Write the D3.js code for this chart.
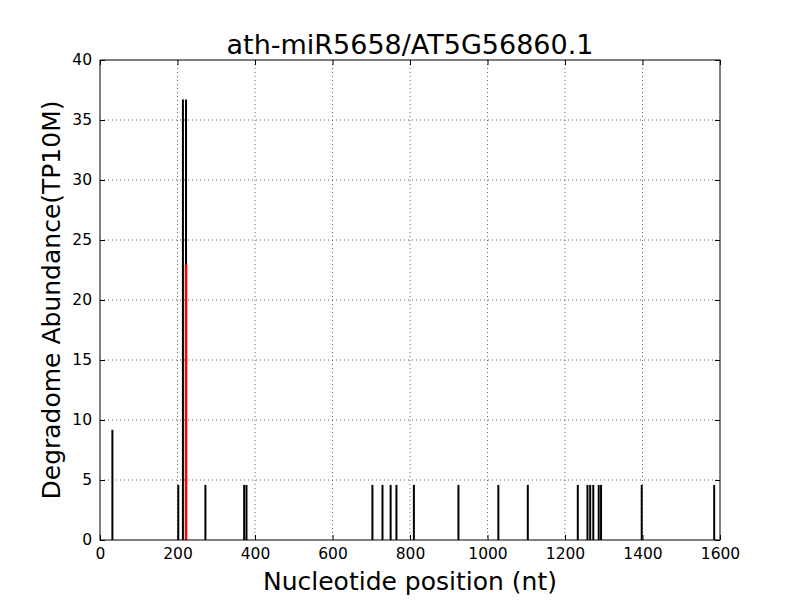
<!DOCTYPE html>
<html>
<head>
<meta charset="utf-8">
<script src="https://cdn.jsdelivr.net/npm/d3@7"></script>
<style>
  body { margin: 0; background: #fff; }
  text { font-family: "DejaVu Sans", sans-serif; }
</style>
</head>
<body>
<div id="chart"></div>
<script>
// degradome reads along the transcript
const positions = [32, 202, 214, 222, 272, 372, 378, 703, 729, 750, 765, 810, 925, 1028, 1104, 1233, 1258, 1265, 1273, 1287, 1293, 1398, 1585];
const abundance = [9.18, 4.59, 36.7, 36.7, 4.59, 4.59, 4.59, 4.59, 4.59, 4.59, 4.59, 4.59, 4.59, 4.59, 4.59, 4.59, 4.59, 4.59, 4.59, 4.59, 4.59, 4.59, 4.59];
// target site
const sitePos = [222];
const siteVal = [22.95];
const xTicks = [0, 200, 400, 600, 800, 1000, 1200, 1400, 1600];
const yTicks = [0, 5, 10, 15, 20, 25, 30, 35, 40];

const width = 800, height = 600;
const margin = {top: 60, right: 80, bottom: 60, left: 100};
const w = width - margin.left - margin.right, h = height - margin.top - margin.bottom;

const svg = d3.select("#chart").append("svg")
  .attr("width", width).attr("height", height);
const g = svg.append("g").attr("transform", `translate(${margin.left},${margin.top})`);

const x = d3.scaleLinear().domain([0, 1600]).range([0, w]);
const y = d3.scaleLinear().domain([0, 40]).range([h, 0]);

// grid
g.selectAll(".gx").data(xTicks.slice(1, -1)).enter().append("line")
  .attr("x1", d => x(d)).attr("x2", d => x(d)).attr("y1", 0).attr("y2", h)
  .attr("stroke", "#000").attr("stroke-width", 0.6).attr("stroke-dasharray", "1,3");
g.selectAll(".gy").data(yTicks.slice(1, -1)).enter().append("line")
  .attr("y1", d => y(d)).attr("y2", d => y(d)).attr("x1", 0).attr("x2", w)
  .attr("stroke", "#000").attr("stroke-width", 0.6).attr("stroke-dasharray", "1,3");

// bars
const data = positions.map((p, i) => ({p: p, v: abundance[i]}));
g.selectAll(".bar").data(data).enter().append("line")
  .attr("x1", d => x(d.p)).attr("x2", d => x(d.p))
  .attr("y1", h).attr("y2", d => y(d.v))
  .attr("stroke", "#000").attr("stroke-width", 2);
g.selectAll(".site").data(sitePos).enter().append("line")
  .attr("x1", d => x(d)).attr("x2", d => x(d))
  .attr("y1", h).attr("y2", (d, i) => y(siteVal[i]))
  .attr("stroke", "red").attr("stroke-width", 2.5);

// axes (ticks inside, mirrored)
g.append("g").attr("transform", `translate(0,${h})`)
  .call(d3.axisBottom(x).tickValues(xTicks).tickFormat(d3.format("d")).tickSizeInner(-5).tickSizeOuter(0).tickPadding(8));
g.append("g")
  .call(d3.axisLeft(y).tickValues(yTicks).tickFormat(d3.format("d")).tickSizeInner(-5).tickSizeOuter(0).tickPadding(8));
g.append("g").call(d3.axisTop(x).tickValues(xTicks).tickSizeInner(-5).tickSizeOuter(0).tickFormat(""));
g.append("g").attr("transform", `translate(${w},0)`)
  .call(d3.axisRight(y).tickValues(yTicks).tickSizeInner(-5).tickSizeOuter(0).tickFormat(""));
svg.selectAll(".domain").remove();
svg.selectAll(".tick line").attr("stroke", "#000");
svg.selectAll(".tick text").attr("font-size", 15.5).attr("fill", "#000")
  .style("font-family", "DejaVu Sans, sans-serif");

g.append("rect").attr("width", w).attr("height", h)
  .attr("fill", "none").attr("stroke", "#000").attr("stroke-width", 1);

svg.append("text").attr("x", margin.left + w / 2).attr("y", 54)
  .attr("text-anchor", "middle").attr("font-size", 27).text("ath-miR5658/AT5G56860.1");
svg.append("text").attr("x", margin.left + w / 2).attr("y", 590)
  .attr("text-anchor", "middle").attr("font-size", 25).text("Nucleotide position (nt)");
svg.append("text").attr("transform", `translate(60,${margin.top + h / 2}) rotate(-90)`)
  .attr("text-anchor", "middle").attr("font-size", 25).text("Degradome Abundance(TP10M)");
</script>
</body>
</html>
